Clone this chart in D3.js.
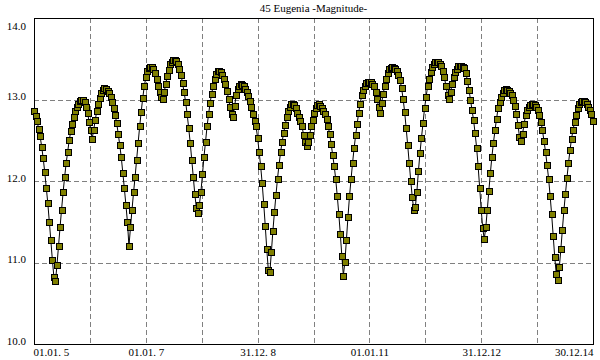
<!DOCTYPE html>
<html>
<head>
<meta charset="utf-8">
<script src="https://cdn.jsdelivr.net/npm/d3@7"></script>
<style>
html,body{margin:0;padding:0;background:#fff;}
svg{display:block;}
text{font-family:"Liberation Serif","Times New Roman",serif;font-size:11px;fill:#000;white-space:pre;}
</style>
</head>
<body>
<svg id="chart" width="600" height="360"></svg>
<script>
const chartTitle = "45 Eugenia -Magnitude-";

// days since 01.01.2005 (10-day ephemeris step)
const days = [
0,10,20,30,40,50,60,70,80,90,100,110,120,130,140,150,160,170,180,190,
200,210,220,230,240,250,260,270,280,290,300,310,320,330,340,350,360,370,380,390,
400,410,420,430,440,450,460,470,480,490,500,510,520,530,540,550,560,570,580,590,
600,610,620,630,640,650,660,670,680,690,700,710,720,730,740,750,760,770,780,790,
800,810,820,830,840,850,860,870,880,890,900,910,920,930,940,950,960,970,980,990,
1000,1010,1020,1030,1040,1050,1060,1070,1080,1090,1100,1110,1120,1130,1140,1150,1160,1170,1180,1190,
1200,1210,1220,1230,1240,1250,1260,1270,1280,1290,1300,1310,1320,1330,1340,1350,1360,1370,1380,1390,
1400,1410,1420,1430,1440,1450,1460,1470,1480,1490,1500,1510,1520,1530,1540,1550,1560,1570,1580,1590,
1600,1610,1620,1630,1640,1650,1660,1670,1680,1690,1700,1710,1720,1730,1740,1750,1760,1770,1780,1790,
1800,1810,1820,1830,1840,1850,1860,1870,1880,1890,1900,1910,1920,1930,1940,1950,1960,1970,1980,1990,
2000,2010,2020,2030,2040,2050,2060,2070,2080,2090,2100,2110,2120,2130,2140,2150,2160,2170,2180,2190,
2200,2210,2220,2230,2240,2250,2260,2270,2280,2290,2300,2310,2320,2330,2340,2350,2360,2370,2380,2390,
2400,2410,2420,2430,2440,2450,2460,2470,2480,2490,2500,2510,2520,2530,2540,2550,2560,2570,2580,2590,
2600,2610,2620,2630,2640,2650,2660,2670,2680,2690,2700,2710,2720,2730,2740,2750,2760,2770,2780,2790,
2800,2810,2820,2830,2840,2850,2860,2870,2880,2890,2900,2910,2920,2930,2940,2950,2960,2970,2980,2990,
3000,3010,3020,3030,3040,3050,3060,3070,3080,3090,3100,3110,3120,3130,3140,3150,3160,3170,3180,3190,
3200,3210,3220,3230,3240,3250,3260,3270,3280,3290,3300,3310,3320,3330,3340,3350,3360,3370,3380,3390,
3400,3410,3420,3430,3440,3450,3460,3470,3480,3490,3500,3510,3520,3530,3540,3550,3560,3570,3580,3590,
3600,3610,3620,3630,3640,3650
];

const magnitude = [
12.86,12.80,12.74,12.64,12.55,12.42,12.28,12.11,11.92,11.73,11.50,11.27,11.03,10.82,10.77,10.97,11.20,11.43,11.65,11.86,
12.05,12.22,12.36,12.50,12.61,12.70,12.79,12.86,12.91,12.95,12.98,13.00,13.00,12.97,12.91,12.83,12.73,12.63,12.52,12.63,
12.75,12.86,12.95,13.02,13.08,13.12,13.14,13.13,13.11,13.08,13.03,12.97,12.90,12.81,12.71,12.58,12.44,12.29,12.10,11.91,
11.71,11.50,11.20,11.43,11.65,11.86,12.05,12.26,12.47,12.67,12.85,13.02,13.16,13.27,13.35,13.39,13.40,13.40,13.38,13.33,
13.25,13.17,13.09,13.03,13.01,13.09,13.19,13.29,13.36,13.43,13.46,13.48,13.49,13.47,13.44,13.37,13.30,13.20,13.09,12.97,
12.82,12.65,12.47,12.26,12.05,11.84,11.67,11.61,11.71,11.87,12.08,12.30,12.48,12.67,12.82,12.96,13.07,13.17,13.25,13.31,
13.35,13.35,13.34,13.30,13.25,13.19,13.11,13.01,12.91,12.82,12.79,12.92,13.05,13.13,13.17,13.19,13.18,13.16,13.13,13.09,
13.04,12.98,12.91,12.82,12.74,12.67,12.53,12.36,12.18,11.97,11.72,11.45,11.16,10.91,10.88,11.13,11.39,11.62,11.83,12.03,
12.20,12.35,12.48,12.59,12.69,12.78,12.86,12.91,12.94,12.94,12.93,12.89,12.84,12.79,12.74,12.67,12.57,12.48,12.43,12.48,
12.57,12.67,12.75,12.84,12.90,12.93,12.94,12.92,12.90,12.86,12.82,12.76,12.68,12.58,12.46,12.32,12.19,12.02,11.82,11.60,
11.35,11.08,10.84,11.01,11.28,11.56,11.81,12.02,12.22,12.40,12.56,12.70,12.84,12.95,13.05,13.12,13.17,13.20,13.22,13.22,
13.22,13.19,13.16,13.09,13.01,12.91,12.84,12.96,13.07,13.17,13.25,13.33,13.37,13.39,13.40,13.39,13.38,13.35,13.30,13.24,
13.14,13.01,12.85,12.65,12.44,12.22,12.00,11.80,11.64,11.68,11.87,12.12,12.34,12.53,12.71,12.89,13.03,13.16,13.25,13.34,
13.40,13.44,13.46,13.46,13.46,13.44,13.41,13.35,13.27,13.16,13.06,13.01,13.09,13.19,13.28,13.34,13.38,13.41,13.41,13.41,
13.40,13.39,13.33,13.23,13.12,13.00,12.87,12.75,12.59,12.41,12.18,11.92,11.65,11.42,11.29,11.43,11.65,11.88,12.10,12.30,
12.47,12.62,12.76,12.89,12.97,13.03,13.08,13.12,13.13,13.12,13.11,13.08,13.05,13.00,12.92,12.82,12.69,12.54,12.49,12.58,
12.70,12.81,12.87,12.91,12.93,12.95,12.95,12.93,12.91,12.87,12.81,12.73,12.62,12.49,12.36,12.20,12.03,11.82,11.59,11.33,
11.07,10.86,10.78,10.94,11.16,11.40,11.64,11.84,12.04,12.22,12.38,12.52,12.63,12.73,12.81,12.89,12.94,12.97,12.98,12.98,
12.97,12.95,12.91,12.87,12.82,12.74
];

const yTicks = [10, 11, 12, 13, 14];
const yGrid = [11, 12, 13];
const xGridDays = [365, 730, 1095, 1460, 1825, 2190, 2555, 2920, 3285];
const xTickDays = [0, 730, 1460, 2190, 2920, 3650];
const xTickLabels = ["01.01. 5", "01.01. 7", "31.12. 8", "01.01.11", "31.12.12", "30.12.14"];

const plot = {left: 34, right: 593, top: 18, bottom: 344};
const svg = d3.select("#chart");

const x = d3.scaleLinear().domain([0, 3650]).range([plot.left, plot.right]);
const y = d3.scaleLinear().domain([10, 14]).range([plot.bottom, plot.top]);
const crisp = v => Math.round(v) + 0.5;

// title
svg.append("text")
  .attr("x", (plot.left + plot.right) / 2)
  .attr("y", 12)
  .attr("text-anchor", "middle")
  .text(chartTitle);

// grid
const grid = svg.append("g").attr("stroke", "#808080").attr("stroke-width", 1)
  .attr("stroke-dasharray", "5,3").attr("fill", "none");
grid.selectAll("line.v").data(xGridDays).join("line").attr("class", "v")
  .attr("x1", d => crisp(x(d))).attr("x2", d => crisp(x(d)))
  .attr("y1", plot.top).attr("y2", plot.bottom);
grid.selectAll("line.h").data(yGrid).join("line").attr("class", "h")
  .attr("y1", d => crisp(y(d))).attr("y2", d => crisp(y(d)))
  .attr("x1", plot.left).attr("x2", plot.right);

// frame
svg.append("rect")
  .attr("x", plot.left + 0.5).attr("y", plot.top + 0.5)
  .attr("width", plot.right - plot.left).attr("height", plot.bottom - plot.top)
  .attr("fill", "none").attr("stroke", "#000").attr("stroke-width", 1);

// y axis labels
const yAxis = svg.append("g").attr("transform", `translate(${plot.left},0)`)
  .call(d3.axisLeft(y).tickValues(yTicks).tickFormat(d3.format(".1f")).tickSize(0).tickPadding(8));
yAxis.select(".domain").remove();
yAxis.selectAll("text")
  .attr("font-family", null).attr("font-size", null)
  .attr("dy", d => d === 14 ? "11" : "0");

// x axis labels
const xAxis = svg.append("g").attr("transform", `translate(0,${plot.bottom})`)
  .call(d3.axisBottom(x).tickValues(xTickDays)
    .tickFormat((d, i) => xTickLabels[i]).tickSize(0).tickPadding(4));
xAxis.select(".domain").remove();
xAxis.selectAll("text")
  .attr("font-family", null).attr("font-size", null)
  .attr("text-anchor", (d, i) => i === 0 ? "start" : (i === xTickDays.length - 1 ? "end" : "middle"))
  .attr("dx", (d, i) => i === 0 ? "-1" : "0");
svg.selectAll(".tick text").style("font-family", "'Liberation Serif','Times New Roman',serif").style("font-size", "11px");
svg.selectAll("g").attr("font-family", null).attr("font-size", null);

// data
const pts = days.map((d, i) => ({d: d, m: magnitude[i]}));
svg.append("path")
  .datum(pts)
  .attr("fill", "none").attr("stroke", "#000").attr("stroke-width", 1)
  .attr("d", d3.line().x(p => x(p.d)).y(p => y(p.m)));

const s = 6;
svg.append("g").selectAll("rect").data(pts).join("rect")
  .attr("x", p => Math.round(x(p.d)) - s / 2 + 0.5)
  .attr("y", p => Math.round(y(p.m)) - s / 2 + 0.5)
  .attr("width", s).attr("height", s)
  .attr("fill", "#808000").attr("stroke", "#000").attr("stroke-width", 1);
</script>
</body>
</html>
